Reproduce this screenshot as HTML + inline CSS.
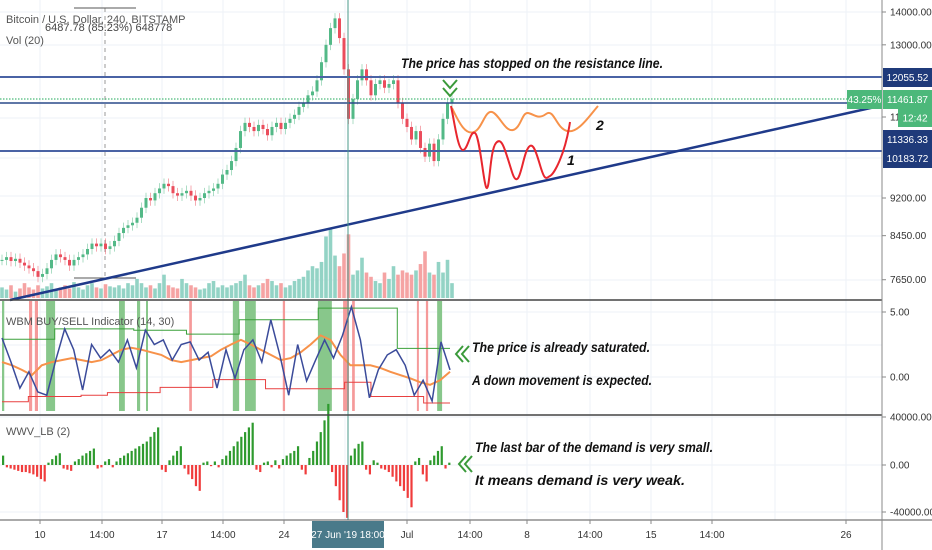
<!DOCTYPE html>
<html><head><meta charset="utf-8"><style>
body{margin:0;background:#fff;width:932px;height:550px;overflow:hidden;font-family:"Liberation Sans",sans-serif}
svg{display:block}
.ax{font-size:10px;fill:#333;font-family:"Liberation Sans",sans-serif}
.note{font-size:14px;font-style:italic;font-weight:bold;fill:#111;font-family:"Liberation Sans Narrow","Liberation Sans",sans-serif}
</style></head><body>
<svg id="c" width="932" height="550" xmlns="http://www.w3.org/2000/svg">
<g id="grid"></g>
<g id="price"></g>
<g id="ind"></g>
<g id="wwv"></g>
<g id="axes"></g>
</svg>
<script>
const closes=[8000,8050,7980,8020,7950,7900,7850,7800,7700,7750,7850,8000,8100,8050,8000,7900,8000,8050,8100,8200,8300,8250,8300,8200,8250,8350,8500,8600,8650,8700,8800,9000,9200,9150,9300,9400,9500,9450,9300,9250,9300,9350,9250,9150,9200,9300,9350,9400,9500,9700,9800,10000,10300,10700,10900,10800,10700,10850,10750,10600,10800,10900,10750,10900,11000,11100,11300,11400,11600,11700,12000,12500,13000,13500,13800,13200,12300,11000,11500,12000,12300,12000,11600,11900,12000,11800,11900,12000,11400,11000,10800,10500,10700,10300,10100,10400,10000,10500,11000,11400,11500];
const volumes=[10,8,12,6,9,14,10,8,12,9,11,14,8,10,12,9,15,10,8,12,14,10,9,13,11,10,12,9,14,12,18,14,10,12,9,14,22,12,10,9,18,14,12,10,8,9,14,16,10,12,10,12,14,16,22,12,10,12,14,18,16,12,14,10,12,16,18,20,26,30,28,34,58,66,40,30,42,60,22,26,38,24,20,16,14,24,18,30,22,26,24,22,26,32,44,24,22,34,24,36,14];
const indBlue=[3.0,1.15,-0.85,0.4,-1.15,-1.4,1.3,3.7,2.1,-1.0,2.5,1.45,2.1,1.15,2.85,0.7,3.6,2.5,2.85,1.3,2.5,2.7,1.3,1.9,-0.85,2.1,-0.1,2.1,2.85,1.15,4.4,1.7,-1.4,2.5,-0.3,1.3,2.85,1.45,3.2,5.4,2.85,-1.6,0.55,1.7,2.1,0.9,-1.4,-0.25,-1.85,2.7,0.55];
const indOrange=[1.15,0.9,0.55,0.15,0.9,1.15,1.3,1.45,1.3,1.15,1.3,1.7,2.1,2.25,2.1,1.9,1.7,1.3,1.15,1.3,1.45,1.6,2.1,2.5,2.85,2.5,2.1,1.7,1.3,1.45,1.9,2.5,3.2,2.85,1.7,0.9,0.9,0.9,0.7,0.4,0.15,-0.1,-0.4,-0.6,-0.25,0.4];
const upperStep=[2.9,2.9,3.7,3.7,3.7,3.6,3.6,3.3,3.3,4.4,4.4,4.4,5.3,5.3,5.3,2.2,2.2];
const lowerStep=[-1.9,-1.5,-1.5,-1.4,-1.2,-1.2,-0.8,-0.8,-0.2,-0.2,-0.9,-0.9,-0.9,-0.4,-1.5,-1.5,-2.0];
const greenBands=[[0,0.5],[9.8,11.8],[26,27.3],[30,30.7],[32,32.4],[51.3,52.7],[54,56.4],[70.2,73.3],[96.7,97.8]];
const redBands=[[6,6.7],[7.3,8],[41.6,42.2],[62.4,62.9],[75.8,77.1],[77.8,78.4],[92.2,92.6],[94.2,94.7]];
const wwvBars=[8,-2,-3,-4,-5,-6,-6,-7,-8,-10,-12,-14,2,5,8,10,-3,-4,-5,3,5,8,10,12,14,-3,-2,3,5,-2,3,6,8,10,12,14,16,18,20,24,28,32,-4,-6,4,8,12,16,-3,-8,-12,-18,-22,2,3,-1,3,-2,5,8,12,16,20,24,28,32,36,-4,-6,2,3,-2,4,-3,5,8,10,12,16,-4,-8,6,12,20,28,38,52,-6,-18,-30,-40,-45,8,14,18,20,-4,-8,4,2,-3,-4,-6,-10,-14,-18,-22,-28,-36,3,6,-8,-14,4,8,12,16,-3,2];
const priceTicks=[14000,13000,9200,8450,7650];
const timeLabels=[["10",40],["14:00",102],["17",162],["14:00",223],["24",284],["Jul",407],["14:00",470],["8",527],["14:00",590],["15",651],["14:00",712],["26",846]];

const NS="http://www.w3.org/2000/svg";
function mk(p,t,a){const e=document.createElementNS(NS,t);for(const k in a)e.setAttribute(k,a[k]);p.appendChild(e);return e;}
const G=id=>document.getElementById(id);
const xi=i=>2+4.5*i;
const yP=v=>12+(Math.log(14000)-Math.log(v))*443;
const yI=v=>377-13*v;
const yW=v=>465-v*47/40;

// grid
const grid=G('grid');
[40,102,162,223,284,345,407,470,527,590,651,712,775,846].forEach(x=>{const l=mk(grid,'line',{x1:x,y1:0,x2:x,y2:520,stroke:'#eef2f7'});});
[12,45,77,118,158,196,236,280,312,345,377,417,465,512].forEach(y=>{const l=mk(grid,'line',{x1:0,y1:y,x2:882,y2:y,stroke:'#eef2f7'});});

// price pane
const P=G('price');
let e=mk(P,'line',{x1:105,y1:8,x2:105,y2:278,stroke:'#999','stroke-dasharray':'4,4'});

mk(P,'line',{x1:74,y1:8,x2:136,y2:8,stroke:'#555'});mk(P,'line',{x1:74,y1:278,x2:136,y2:278,stroke:'#555'});
const vmax=70/Math.max(...volumes);
volumes.forEach((v,i)=>{const up=i==0||closes[i]>=closes[i-1];const h=v*vmax;
 const r=mk(P,'rect',{x:xi(i)-1.8,y:298-h,width:3.6,height:h,fill:up?'#93d3c5':'#f5a3a3'});
 });
closes.forEach((c,i)=>{const o=i?closes[i-1]:c;const up=c>=o;const col=up?'#53b987':'#eb4d5c';
 const hi=Math.max(o,c)*1.012,lo=Math.min(o,c)*0.988;
 mk(P,'line',{x1:xi(i),y1:yP(hi),x2:xi(i),y2:yP(lo),stroke:col,'stroke-width':0.8,opacity:0.6});
 const y1=yP(Math.max(o,c)),y2=yP(Math.min(o,c));
 const r=mk(P,'rect',{x:xi(i)-1.5,y:y1,width:3,height:Math.max(1,y2-y1),fill:col});
 });
[[77,'#4a63a5',2],[103,'#2a4a8a',1.5],[151,'#4a63a5',2]].forEach(([y,c,w])=>{const l=mk(P,'line',{x1:0,y1:y,x2:882,y2:y,stroke:c,'stroke-width':w});});
e=mk(P,'line',{x1:0,y1:99,x2:882,y2:99,stroke:'#4cbb7a','stroke-dasharray':'1.5,1.5','stroke-width':1.2});

e=mk(P,'line',{x1:10,y1:300,x2:875,y2:107,stroke:'#1f3a8a','stroke-width':2.5});

e=mk(P,'path',{d:'M452,108 C460,125 466,135 474,132 S485,110 492,112 S505,132 513,130 S522,112 528,113 S538,120 546,114 S556,128 567,131 S590,115 598,106',fill:'none',stroke:'#f7924a','stroke-width':2});

e=mk(P,'path',{d:'M451,106 C455,125 458,150 463,150 S470,130 475,133 S484,190 487,188 S490,150 496,143 S505,150 512,172 S522,160 527,150 S535,148 540,165 S546,178 550,176 S565,155 570,122',fill:'none',stroke:'#e8262e','stroke-width':2});

e=mk(P,'path',{d:'M443,80 L450,88 L457,80 M443,88 L450,96 L457,88',fill:'none',stroke:'#3a9a3a','stroke-width':2});

e=mk(P,'text',{x:401,y:68,class:'note',textLength:262,lengthAdjust:'spacingAndGlyphs'});e.textContent='The price has stopped on the resistance line.';

e=mk(P,'text',{x:596,y:130,class:'note'});e.textContent='2';
e=mk(P,'text',{x:567,y:165,class:'note'});e.textContent='1';
e=mk(P,'text',{x:6,y:23,fill:'#555','font-size':11});e.textContent='Bitcoin / U.S. Dollar, 240, BITSTAMP';
e=mk(P,'text',{x:45,y:31,fill:'#444','font-size':11});e.textContent='6487.78 (85.23%) 648778';
e=mk(P,'text',{x:6,y:44,fill:'#555','font-size':11});e.textContent='Vol (20)';

// indicator pane
const I=G('ind');
greenBands.forEach(([a,b])=>{const r=mk(I,'rect',{x:xi(a),y:301,width:Math.max(2,xi(b)-xi(a)),height:110,fill:'#88c78b'});});
redBands.forEach(([a,b])=>{const r=mk(I,'rect',{x:xi(a),y:301,width:Math.max(2,xi(b)-xi(a)),height:110,fill:'#f59a9a'});});
function line(g,arr,yf,col,w,name,xmax){const n=arr.length;const d=arr.map((v,i)=>(i?'L':'M')+(2+i*(xmax-2)/(n-1)).toFixed(1)+','+yf(v).toFixed(1)).join(' ');const p=mk(g,'path',{d:d,fill:'none',stroke:col,'stroke-width':w});}
function step(g,arr,yf,col,name){const n=arr.length;let d='';arr.forEach((v,i)=>{const x0=2+i*448/n,x1=2+(i+1)*448/n;d+=(i?'L':'M')+x0+','+yf(v)+' L'+x1+','+yf(v)+' ';});const p=mk(g,'path',{d:d,fill:'none',stroke:col,'stroke-width':1});}
step(I,upperStep,yI,'#3aa03a','upper-band-line');
step(I,lowerStep,yI,'#e84040','lower-band-line');
line(I,indOrange,yI,'#f7924a',2,'signal-line',450);
line(I,indBlue,yI,'#3b4b9a',1.5,'indicator-line',450);
e=mk(I,'text',{x:6,y:325,fill:'#555','font-size':11});e.textContent='WBM BUY/SELL Indicator (14, 30)';
e=mk(I,'text',{x:472,y:352,class:'note',textLength:178,lengthAdjust:'spacingAndGlyphs'});e.textContent='The price is already saturated.';
e=mk(I,'text',{x:472,y:385,class:'note',textLength:180,lengthAdjust:'spacingAndGlyphs'});e.textContent='A down movement is expected.';
e=mk(I,'path',{d:'M463,346 L456,354 L463,362 M469,346 L462,354 L469,362',fill:'none',stroke:'#3a9a3a','stroke-width':2});

// wwv pane
const W=G('wwv');
const n=wwvBars.length;
wwvBars.forEach((v,i)=>{const x=2+i*450/n;const y=yW(Math.max(v,0)),h=Math.abs(yW(v)-yW(0));const r=mk(W,'rect',{x:x,y:y,width:2.2,height:Math.max(1,h),fill:v>=0?'#2e9a2e':'#f03c3c'});});
e=mk(W,'text',{x:6,y:435,fill:'#555','font-size':11});e.textContent='WWV_LB (2)';
e=mk(W,'text',{x:475,y:452,class:'note',textLength:238,lengthAdjust:'spacingAndGlyphs'});e.textContent='The last bar of the demand is very small.';
e=mk(W,'text',{x:475,y:485,class:'note',textLength:210,lengthAdjust:'spacingAndGlyphs'});e.textContent='It means demand is very weak.';
e=mk(W,'path',{d:'M466,456 L459,464 L466,472 M472,456 L465,464 L472,472',fill:'none',stroke:'#3a9a3a','stroke-width':2});

// axes
const A=G('axes');
e=mk(A,'line',{x1:348,y1:0,x2:348,y2:520,stroke:'#4a9a8a','stroke-width':1});
mk(A,'line',{x1:0,y1:300,x2:882,y2:300,stroke:'#444','stroke-width':1.5});
mk(A,'line',{x1:0,y1:415,x2:882,y2:415,stroke:'#444','stroke-width':1.5});
mk(A,'line',{x1:0,y1:520,x2:932,y2:520,stroke:'#555','stroke-width':1});
mk(A,'line',{x1:882,y1:0,x2:882,y2:550,stroke:'#888','stroke-width':1});
function yl(y,t){mk(A,'line',{x1:882,y1:y,x2:886,y2:y,stroke:'#888'});const tx=mk(A,'text',{x:890,y:y+3.5,class:'ax'});tx.textContent=t;}
priceTicks.forEach(v=>yl(yP(v),v.toFixed(2)));
yl(117,'11');
yl(312,'5.00');yl(377,'0.00');yl(417,'40000.00');yl(465,'0.00');yl(512,'-40000.00');
function box(x,y,w,h,fill,t,name){const r=mk(A,'rect',{x:x,y:y,width:w,height:h,fill:fill});const tx=mk(A,'text',{x:x+w/2,y:y+h/2+3.5,'text-anchor':'middle','font-size':10,fill:'#fff'});tx.textContent=t;}
box(883,68,49,19,'#1f3a7a','12055.52','level-label');
box(883,90,49,19,'#4cb87a','11461.87','last-price-label');
box(847,90,35,19,'#4cb87a','43.25%','percent-label');
box(898,109,34,18,'#4cb87a','12:42','countdown-label');
box(883,130,49,19,'#1f3a7a','11336.33','level-label');
box(883,149,49,19,'#1f3a7a','10183.72','level-label');
timeLabels.forEach(([t,x])=>{mk(A,'line',{x1:x,y1:520,x2:x,y2:524,stroke:'#888'});const tx=mk(A,'text',{x:x,y:538,class:'ax','text-anchor':'middle'});tx.textContent=t;});
box(312,521,72,27,'#4a7a8a','27 Jun \'19   18:00','crosshair-time-label');
</script>
</body></html>
